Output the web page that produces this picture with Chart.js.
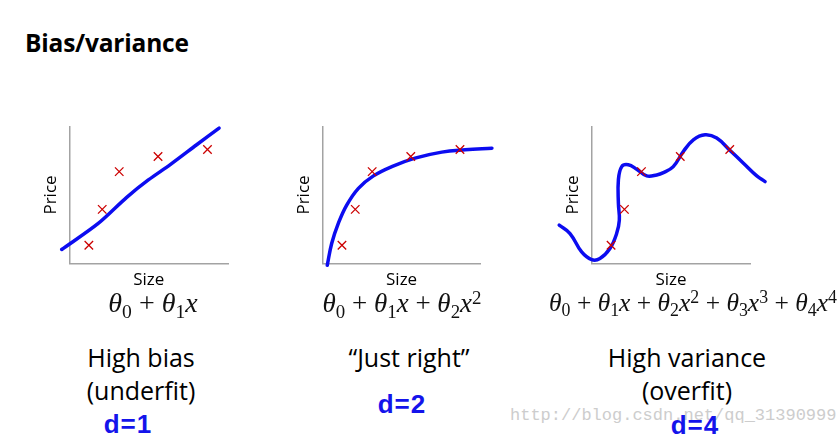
<!DOCTYPE html>
<html>
<head>
<meta charset="utf-8">
<script src="https://cdn.jsdelivr.net/npm/chart.js@4/dist/chart.umd.min.js"></script>
<style>
  html, body { margin: 0; padding: 0; background: #fff; }
  #stage { position: relative; width: 840px; height: 439px; overflow: hidden; background: #fff; }
  canvas { position: absolute; }
  .txt { position: absolute; white-space: nowrap; transform: translateX(-50%); text-align: center; }
  .title { position: absolute; left: 25px; top: 26px; font: bold 24.5px "Open Sans", sans-serif; color: #000; letter-spacing: -0.2px; }
  .lab { font-family: "Open Sans", sans-serif; font-size: 25px; line-height: 33px; color: #000; }
  .fx { font-family: "Liberation Serif", serif; line-height: 30px; color: #111; }
  .fx i { font-style: italic; }
  .fx sub, .fx sup { font-size: 0.7em; vertical-align: baseline; position: relative; font-style: normal; }
  .fx sub { top: 0.3em; }
  .fx sup { top: -0.45em; }
  .fx .op { padding: 0 0.25em; }
  .hand { font-family: "Liberation Sans", sans-serif; font-weight: bold; font-size: 26px; line-height: 30px; color: rgb(20,20,235); letter-spacing: 1px; }
  .wm { position: absolute; left: 510px; top: 406px; font: 17px "Liberation Mono", monospace; color: rgb(205,205,205); }
</style>
</head>
<body>
<div id="stage">
  <div class="title">Bias/variance</div>
  <canvas id="c1" width="270" height="230" style="left:0px;top:100px"></canvas>
  <canvas id="c2" width="270" height="230" style="left:270px;top:100px"></canvas>
  <canvas id="c3" width="300" height="230" style="left:540px;top:100px"></canvas>

  <div class="txt fx" style="left:153px;top:288px;font-size:28px"><i>θ</i><sub>0</sub><span class="op">+</span><i>θ</i><sub>1</sub><i>x</i></div>
  <div class="txt fx" style="left:402px;top:288px;font-size:27px"><i>θ</i><sub>0</sub><span class="op">+</span><i>θ</i><sub>1</sub><i>x</i><span class="op">+</span><i>θ</i><sub>2</sub><i>x</i><sup>2</sup></div>
  <div class="txt fx" style="left:693px;top:288px;font-size:25.5px"><i>θ</i><sub>0</sub><span class="op">+</span><i>θ</i><sub>1</sub><i>x</i><span class="op">+</span><i>θ</i><sub>2</sub><i>x</i><sup>2</sup><span class="op">+</span><i>θ</i><sub>3</sub><i>x</i><sup>3</sup><span class="op">+</span><i>θ</i><sub>4</sub><i>x</i><sup>4</sup></div>

  <div class="txt lab" style="left:141px;top:341px">High bias<br>(underfit)</div>
  <div class="txt lab" style="left:409px;top:341px">“Just right”</div>
  <div class="txt lab" style="left:687px;top:341px">High variance<br>(overfit)</div>

  <div class="wm">http://blog.csdn.net/qq_31390999</div>

  <div class="txt hand" style="left:128px;top:409px">d=1</div>
  <div class="txt hand" style="left:402px;top:389px">d=2</div>
  <div class="txt hand" style="left:695px;top:410px">d=4</div>
</div>
<script>
// Training examples (same five houses in every panel): Size vs Price
const sizeX  = [1.23, 2.07, 3.14, 5.58, 8.69];
const priceY = [1.32, 3.95, 6.71, 7.82, 8.33];

// Fitted curves
const fit1X = [-0.48, 1.82, 3.61, 4.97, 6.33, 8.01, 9.42];
const fit1Y = [1.01, 2.92, 4.83, 6.10, 7.21, 8.68, 9.90];

const fit2X = [0.30, 0.58, 1.00, 1.53, 2.27, 3.22, 4.38, 5.85, 7.54, 9.01, 10.71];
const fit2Y = [-0.15, 1.45, 2.92, 4.26, 5.49, 6.40, 7.08, 7.70, 8.14, 8.31, 8.43];

const fit3X = [-2.03, -1.35, -0.62, 0.01, 0.53, 1.16, 1.58, 1.75, 1.69, 1.69, 1.90, 2.31, 2.84, 3.47, 4.10, 4.52, 5.14, 5.77, 6.40, 7.14, 7.87, 8.71, 9.55, 10.39, 10.91];
const fit3Y = [2.79, 2.18, 0.83, 0.27, 0.35, 1.08, 2.18, 3.16, 4.39, 6.10, 7.08, 7.21, 6.89, 6.40, 6.47, 6.64, 7.08, 8.18, 9.04, 9.41, 9.17, 8.26, 7.33, 6.40, 5.98];

const xTitle = 'Size';
const yTitle = 'Price';

const toPts = (xs, ys) => xs.map((x, i) => ({ x: x, y: ys[i] }));

function makeChart(id, fx, fy, pad, tension) {
  const axisFont = { family: 'Open Sans', size: 17, lineHeight: 1 };
  new Chart(document.getElementById(id), {
    type: 'scatter',
    data: {
      datasets: [
        {
          data: toPts(sizeX, priceY),
          pointStyle: 'crossRot',
          pointRadius: 6,
          pointHoverRadius: 6,
          borderColor: '#cc0000',
          backgroundColor: '#cc0000',
          pointBorderWidth: 1.3,
          showLine: false,
          clip: false,
          order: 0
        },
        {
          data: toPts(fx, fy),
          showLine: true,
          borderColor: 'rgb(12,12,240)',
          borderWidth: 3.5,
          pointRadius: 0,
          tension: tension,
          fill: false,
          clip: false,
          borderCapStyle: 'round',
          borderJoinStyle: 'round',
          order: 1
        }
      ]
    },
    options: {
      responsive: false,
      animation: false,
      devicePixelRatio: 1,
      layout: { padding: pad },
      plugins: { legend: { display: false }, tooltip: { enabled: false } },
      events: [],
      scales: {
        x: {
          type: 'linear', min: 0, max: 10,
          grid: { display: false, drawTicks: false },
          ticks: { display: false },
          border: { display: true, color: '#a3a3a3', width: 1.5 },
          title: { display: true, text: xTitle, color: '#000', font: axisFont, padding: { top: 8.5, bottom: 8.5 } }
        },
        y: {
          type: 'linear', min: 0, max: 10,
          grid: { display: false, drawTicks: false },
          ticks: { display: false },
          border: { display: true, color: '#a3a3a3', width: 1.5 },
          title: { display: true, text: yTitle, color: '#000', font: axisFont, padding: { top: 10, bottom: 10 } }
        }
      }
    }
  });
}

makeChart('c1', fit1X, fit1Y, { top: 26.7, bottom: 32.7, left: 32.3, right: 41.7 }, 0.3);
makeChart('c2', fit2X, fit2Y, { top: 26.7, bottom: 32.7, left: 15.5, right: 59.3 }, 0.4);
makeChart('c3', fit3X, fit3Y, { top: 26.7, bottom: 32.7, left: 14.5, right: 89.4 }, 0.4);
</script>
</body>
</html>
